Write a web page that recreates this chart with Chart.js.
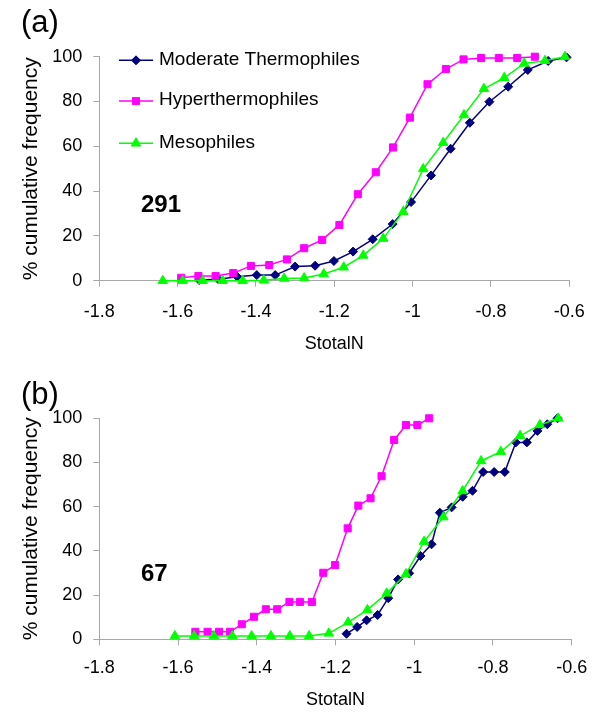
<!DOCTYPE html>
<html>
<head>
<meta charset="utf-8">
<script src="https://cdn.jsdelivr.net/npm/chart.js"></script>
<style>
  body { margin: 0; background: #fff; }
  #wrap { position: relative; width: 600px; height: 714px; }
  canvas { position: absolute; left: 0; }
</style>
</head>
<body>
<div id="wrap">
  <canvas id="chartA" width="600" height="357" style="top:0"></canvas>
  <canvas id="chartB" width="600" height="357" style="top:357px"></canvas>
</div>

<script>
  const seriesNames = ['Moderate Thermophiles', 'Hyperthermophiles', 'Mesophiles'];
  const xTicks = [-1.8, -1.6, -1.4, -1.2, -1, -0.8, -0.6];
  const yTicks = [0, 20, 40, 60, 80, 100];

  // panel (a), n = 291
  const aModX = [-1.545, -1.496, -1.448, -1.398, -1.351, -1.300, -1.249, -1.201, -1.152, -1.102, -1.051, -1.004, -0.953, -0.903, -0.854, -0.804, -0.756, -0.706, -0.654, -0.607];
  const aModY = [0.3, 0.6, 1.8, 2.5, 2.5, 6.3, 6.7, 8.8, 13.0, 18.5, 25.3, 35.1, 47.0, 58.9, 70.5, 79.9, 86.6, 94.1, 98.1, 99.7];
  const aHypX = [-1.591, -1.547, -1.503, -1.458, -1.413, -1.366, -1.321, -1.277, -1.231, -1.187, -1.140, -1.094, -1.050, -1.007, -0.962, -0.915, -0.870, -0.825, -0.780, -0.733, -0.688];
  const aHypY = [1.3, 2.1, 2.1, 3.4, 6.6, 7.0, 9.5, 14.5, 18.2, 24.9, 38.6, 48.4, 59.5, 72.8, 87.7, 94.5, 98.8, 99.4, 99.4, 99.4, 100];
  const aMesX = [-1.638, -1.587, -1.536, -1.485, -1.434, -1.380, -1.328, -1.277, -1.227, -1.176, -1.126, -1.075, -1.024, -0.973, -0.922, -0.869, -0.818, -0.766, -0.715, -0.662, -0.611];
  const aMesY = [0, 0, 0, 0, 0, 0.2, 1.0, 1.2, 3.0, 6.0, 11.3, 18.8, 30.8, 49.9, 61.6, 74.0, 85.7, 90.6, 97.0, 98.2, 100];

  // panel (b), n = 67
  const bModX = [-1.172, -1.145, -1.121, -1.093, -1.066, -1.041, -1.013, -0.984, -0.956, -0.935, -0.905, -0.877, -0.852, -0.825, -0.797, -0.770, -0.742, -0.714, -0.687, -0.662, -0.636];
  const bModY = [2.5, 5.6, 8.6, 11.0, 18.6, 27.1, 29.9, 37.7, 43.0, 57.3, 59.7, 64.5, 67.2, 75.7, 75.7, 75.7, 89.1, 89.1, 94.3, 97.3, 100];
  const bHypX = [-1.556, -1.525, -1.496, -1.468, -1.438, -1.407, -1.377, -1.348, -1.317, -1.290, -1.260, -1.231, -1.201, -1.169, -1.142, -1.111, -1.083, -1.051, -1.021, -0.992, -0.962];
  const bHypY = [3.4, 3.4, 3.4, 3.4, 6.8, 10.2, 13.6, 13.6, 16.9, 16.9, 16.9, 30.1, 33.6, 50.2, 60.5, 63.8, 73.8, 90.2, 97.0, 97.0, 100];
  const bMesX = [-1.608, -1.559, -1.509, -1.462, -1.413, -1.364, -1.316, -1.267, -1.217, -1.168, -1.119, -1.070, -1.021, -0.975, -0.926, -0.877, -0.830, -0.780, -0.731, -0.681, -0.634];
  const bMesY = [1.5, 1.5, 1.5, 1.5, 1.5, 1.5, 1.5, 1.5, 2.7, 7.7, 13.3, 20.8, 29.5, 44.2, 55.3, 67.1, 80.7, 84.9, 92.1, 97.0, 100];

  const FONT = "'Liberation Sans', Arial, sans-serif";
  Chart.defaults.font.family = FONT;
  Chart.defaults.color = '#000';

  const styles = [
    { color: '#000080', point: 'rectRot', r: 4.5 },
    { color: '#ff00ff', point: 'rect', r: 5 },
    { color: '#00ff00', point: 'triangle', r: 5.5 }
  ];

  function pts(xs, ys) {
    return xs.map((x, i) => ({ x: x, y: ys[i] }));
  }

  function makeSets(mod, hyp, mes) {
    return [mod, hyp, mes].map((d, i) => ({
      label: seriesNames[i],
      data: d,
      borderColor: styles[i].color,
      backgroundColor: styles[i].color,
      borderWidth: 1.5,
      pointStyle: styles[i].point,
      pointRadius: styles[i].r,
      pointBorderWidth: 1,
      pointBorderColor: styles[i].color,
      pointBackgroundColor: styles[i].color,
      tension: 0,
      clip: false
    })).reverse(); // draw navy on top
  }

  function marker(ctx, style, x, y, r, color) {
    ctx.fillStyle = color;
    ctx.strokeStyle = color;
    ctx.lineWidth = 1;
    ctx.beginPath();
    if (style === 'rectRot') {
      ctx.moveTo(x, y - r); ctx.lineTo(x + r, y); ctx.lineTo(x, y + r); ctx.lineTo(x - r, y);
    } else if (style === 'rect') {
      const s = r * Math.SQRT1_2;
      ctx.rect(x - s, y - s, 2 * s, 2 * s);
    } else {
      for (let k = 0; k < 3; k++) {
        const a = k * 2 * Math.PI / 3;
        ctx.lineTo(x + Math.sin(a) * r, y - Math.cos(a) * r);
      }
    }
    ctx.closePath();
    ctx.fill();
    ctx.stroke();
  }

  function extras(cfg) {
    return {
      id: 'extras',
      afterDraw(chart) {
        const ctx = chart.ctx;
        ctx.save();
        ctx.fillStyle = '#000';
        ctx.textBaseline = 'middle';
        ctx.textAlign = 'left';
        ctx.font = '31px ' + FONT;
        ctx.fillText(cfg.tag, 21, cfg.tagY);
        ctx.font = 'bold 24px ' + FONT;
        ctx.fillText(cfg.count, 141, cfg.countY);
        if (cfg.legend) {
          const ys = [60.3, 101, 143.3];
          seriesNames.forEach((name, i) => {
            const y = ys[i];
            ctx.strokeStyle = styles[i].color;
            ctx.lineWidth = 1.5;
            ctx.beginPath();
            ctx.moveTo(119, y);
            ctx.lineTo(153, y);
            ctx.stroke();
            marker(ctx, styles[i].point, 136, y, styles[i].r, styles[i].color);
            ctx.fillStyle = '#000';
            ctx.font = '19px ' + FONT;
            ctx.fillText(name, 159, y - 1);
          });
        }
        ctx.restore();
      }
    };
  }

  function makeChart(id, sets, cfg) {
    const axisColor = '#a8a8a8';
    return new Chart(document.getElementById(id), {
      type: 'line',
      data: { datasets: sets },
      plugins: [extras(cfg)],
      options: {
        responsive: false,
        animation: false,
        layout: { padding: { top: cfg.top, right: 600 - cfg.right, left: 0, bottom: 0 } },
        plugins: { legend: { display: false }, tooltip: { enabled: false } },
        scales: {
          x: {
            type: 'linear',
            min: xTicks[0],
            max: xTicks[xTicks.length - 1],
            afterBuildTicks: s => { s.ticks = xTicks.map(v => ({ value: v })); },
            afterFit: s => { s.height = 357 - cfg.bottom; },
            grid: { display: true, drawOnChartArea: false, drawTicks: true, tickLength: 6, color: axisColor },
            border: { display: true, color: axisColor, width: 1 },
            ticks: { padding: cfg.xPad, font: { size: 18 }, color: '#000', maxRotation: 0, callback: v => String(+v.toFixed(1)) },
            title: { display: true, text: 'StotalN', font: { size: 18 }, color: '#000', padding: { top: 0, bottom: cfg.titlePad } }
          },
          y: {
            min: 0,
            max: 100,
            afterBuildTicks: s => { s.ticks = yTicks.map(v => ({ value: v })); },
            afterFit: s => { s.width = 99.3; },
            grid: { display: true, drawOnChartArea: false, drawTicks: true, tickLength: 6, color: axisColor },
            border: { display: true, color: axisColor, width: 1 },
            ticks: { padding: 11, font: { size: 18 }, color: '#000' },
            title: { display: true, text: '% cumulative frequency', font: { size: 21 }, color: '#000', padding: { top: 19, bottom: 0 } }
          }
        }
      }
    });
  }

  makeChart('chartA', makeSets(pts(aModX, aModY), pts(aHypX, aHypY), pts(aMesX, aMesY)),
    { top: 56.7, bottom: 280.7, right: 569.3, xPad: 15, titlePad: 2, tag: '(a)', tagY: 23, count: '291', countY: 205, legend: true });

  makeChart('chartB', makeSets(pts(bModX, bModY), pts(bHypX, bHypY), pts(bMesX, bMesY)),
    { top: 61.3, bottom: 282.3, right: 571.7, xPad: 12, titlePad: 3, tag: '(b)', tagY: 38, count: '67', countY: 217, legend: false });
</script>
</body>
</html>
